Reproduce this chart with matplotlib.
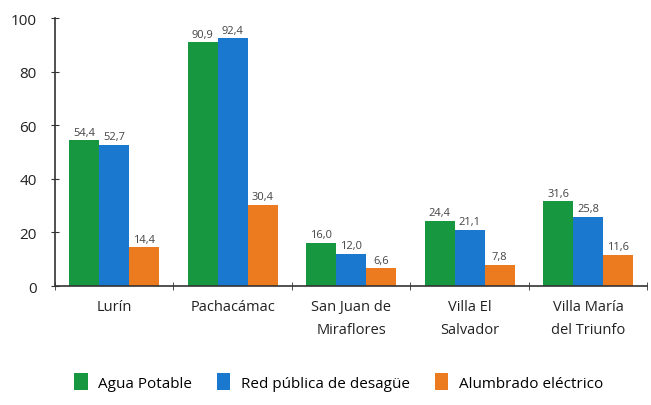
import matplotlib
matplotlib.use("Agg")
import matplotlib.pyplot as plt
import numpy as np

categories = ["Lurín", "Pachacámac", "San Juan de\nMiraflores", "Villa El\nSalvador", "Villa María\ndel Triunfo"]
series_names = ["Agua Potable", "Red pública de desagüe", "Alumbrado eléctrico"]
agua = [54.4, 90.9, 16.0, 24.4, 31.6]
red = [52.7, 92.4, 12.0, 21.1, 25.8]
alumbrado = [14.4, 30.4, 6.6, 7.8, 11.6]
colors = ["#17973f", "#1b78cf", "#ec7a1f"]
yticks = [0, 20, 40, 60, 80, 100]

plt.rcParams['font.family'] = ['Open Sans', 'DejaVu Sans']

fig = plt.figure(figsize=(6.51, 4.06), dpi=100)
ax = fig.add_axes([0.0845, 0.293, 0.91, 0.66])

x = np.arange(len(categories))
w = 0.253
for j, (vals, c, name) in enumerate(zip([agua, red, alumbrado], colors, series_names)):
    pos = x + (j - 1) * w
    ax.bar(pos, vals, width=w, color=c, label=name, zorder=2)
    for p, v in zip(pos, vals):
        ax.text(p, v + 1.0, f"{v:.1f}".replace(".", ","), ha="center", va="bottom",
                fontsize=8, color="#444444")

ax.set_xlim(-0.5, len(categories) - 0.5)
ax.set_ylim(0, 100)
ax.set_yticks(yticks)
ax.set_yticklabels([str(t) for t in yticks], fontsize=11, color="#222222")
ax.set_xticks(x)
ax.set_xticklabels(categories, fontsize=10.5, color="#222222", linespacing=1.75)
ax.set_xticks(np.arange(len(categories) + 1) - 0.5, minor=True)
ax.tick_params(axis="x", which="major", length=0, pad=9)
ax.tick_params(axis="x", which="minor", length=6, direction="inout", color="#333333")
ax.tick_params(axis="y", length=6, direction="inout", color="#333333", pad=10)
for s in ["top", "right"]:
    ax.spines[s].set_visible(False)
ax.spines["left"].set_color("#333333")
ax.spines["bottom"].set_color("#333333")
ax.spines["left"].set_linewidth(1.2)
ax.spines["bottom"].set_linewidth(1.2)

fig.legend(loc="center", bbox_to_anchor=(0.52, 0.057), ncol=3, frameon=False,
           fontsize=11, handlelength=0.9, handleheight=1.3, columnspacing=1.6,
           handletextpad=0.7)

fig.savefig("out.png", dpi=100)
